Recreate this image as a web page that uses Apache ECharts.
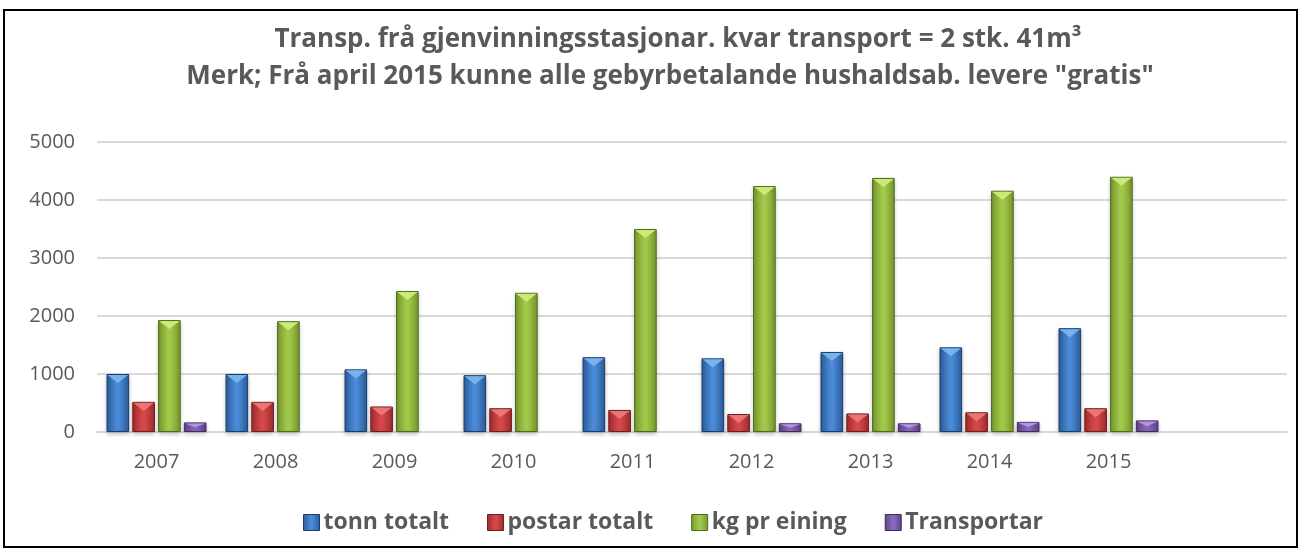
<!DOCTYPE html>
<html><head><meta charset="utf-8">
<script src="https://cdn.jsdelivr.net/npm/echarts@6/dist/echarts.min.js"></script>
<style>html,body{margin:0;padding:0;background:#fff}#c{width:1307px;height:553px}</style>
</head><body><div id="c"></div>
<script>
const categories = ['2007','2008','2009','2010','2011','2012','2013','2014','2015',''];
const tonnTotalt = [1000,1000,1080,980,1290,1270,1380,1460,1790,null];
const postarTotalt = [520,520,440,410,380,310,320,340,410,null];
const kgPrEining = [1930,1910,2430,2400,3500,4240,4380,4160,4400,null];
const transportar = [165,null,null,null,null,150,150,175,200,null];
const titleLines = ['Transp. frå gjenvinningsstasjonar. kvar transport = 2 stk. 41m³',
  'Merk; Frå april 2015 kunne alle gebyrbetalande hushaldsab. levere "gratis"'];

const CAT_GAP = 0.16, BAR_GAP = 0.14, NSER = 4;
function grad(dark, light){
  return new echarts.graphic.LinearGradient(0,0,1,0,[
    {offset:0,color:dark},{offset:0.45,color:light},{offset:0.55,color:light},{offset:1,color:dark}]);
}
const styles = [
  {name:'tonn totalt', data:tonnTotalt, dark:'#2b5c9c', light:'#4a8ad6', top:'#7db8f2', border:'#1c3d6b'},
  {name:'postar totalt', data:postarTotalt, dark:'#a22b2d', light:'#d4484a', top:'#f07a78', border:'#6e1c1d'},
  {name:'kg pr eining', data:kgPrEining, dark:'#76982d', light:'#a2c84a', top:'#d2f07a', border:'#4e6a1e'},
  {name:'Transportar', data:transportar, dark:'#5e4388', light:'#8a68bc', top:'#b89ae6', border:'#3f2c5c'}
];
const font = 'Open Sans';
const series = [];
styles.forEach((s, si) => {
  series.push({
    name:s.name, type:'bar', data:s.data, barGap:(BAR_GAP*100)+'%', barCategoryGap:(CAT_GAP*100)+'%',
    itemStyle:{color:grad(s.dark,s.light), borderColor:s.border, borderWidth:1,
      shadowColor:'rgba(0,0,0,0.22)', shadowBlur:4, shadowOffsetY:2}
  });
});
styles.forEach((s, si) => {
  series.push({
    name:'bevel'+si, type:'custom', z:5, silent:true,
    data: s.data.map((v,i)=>[i,v]),
    renderItem:(params, api) => {
      const v = api.value(1);
      if (v == null || isNaN(v)) return null;
      const p = api.coord([api.value(0), v]);
      const cw = api.size([1,0])[0];
      const gw = cw*(1-CAT_GAP);
      const bw = gw/(NSER + (NSER-1)*BAR_GAP);
      const x0 = p[0] - gw/2 + si*bw*(1+BAR_GAP);
      const x1 = x0 + bw;
      const d = Math.min(bw*0.4, (api.coord([0,0])[1]-p[1])/2);
      return {type:'polygon', shape:{points:[[x0+1,p[1]+1],[x1-1,p[1]+1],[(x0+x1)/2,p[1]+d]]},
        style:{fill:s.top, opacity:0.9}};
    }
  });
});
const chart = echarts.init(document.getElementById('c'));
chart.setOption({
  animation:false,
  legend:{
    top:506, left:298, itemWidth:16, itemHeight:16, itemGap:38,
    textStyle:{fontFamily:font, fontWeight:'bold', fontSize:23, color:'#595959', padding:[0,0,0,-1]},
    data: styles.map(s=>({name:s.name, icon:'rect', itemStyle:{color:grad(s.dark,s.light), borderColor:s.border, borderWidth:1}}))
  },
  grid:{left:97, right:20, top:142, bottom:121},
  xAxis:{
    type:'category', data:categories,
    axisLine:{lineStyle:{color:'#d9d9d9', width:2}}, axisTick:{show:false},
    axisLabel:{fontFamily:font, fontSize:20, color:'#595959', margin:20}
  },
  yAxis:{
    type:'value', min:0, max:5000, interval:1000,
    axisLine:{show:false}, axisTick:{show:false},
    splitLine:{lineStyle:{color:'#d9d9d9', width:2}},
    axisLabel:{fontFamily:font, fontSize:20, color:'#595959', margin:22, formatter:v=>String(v)}
  },
  series: series,
  graphic:[
    {type:'rect', shape:{x:4,y:10,width:1293,height:537}, style:{fill:null, stroke:'#000', lineWidth:2}, silent:true},
    {type:'text', x:678, y:40, style:{text:titleLines[0], textAlign:'center', textVerticalAlign:'middle', fill:'#595959', font:'bold 26px "Open Sans"'}},
    {type:'text', x:670, y:77, style:{text:titleLines[1], textAlign:'center', textVerticalAlign:'middle', fill:'#595959', font:'bold 26px "Open Sans"'}}
  ]
});
</script></body></html>
